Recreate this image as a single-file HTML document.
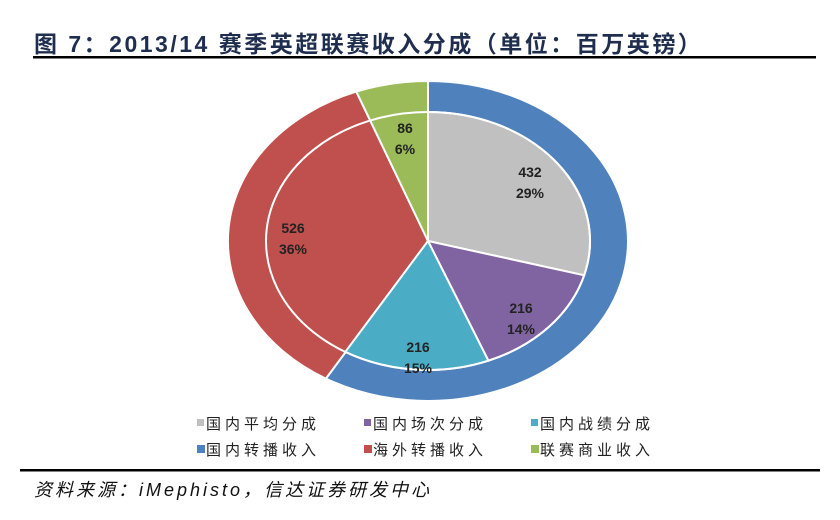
<!DOCTYPE html>
<html><head><meta charset="utf-8"><style>
body{margin:0;background:#fff;}
svg{display:block;}
</style></head><body>
<svg width="840" height="520" xmlns="http://www.w3.org/2000/svg">
<text x="34" y="52" font-family="'Liberation Sans','Noto Sans CJK SC',sans-serif" font-size="23" font-weight="bold" letter-spacing="2.5" fill="#1f2d4e">图 7：2013/14 赛季英超联赛收入分成（单位：百万英镑）</text>
<rect x="33" y="56" width="783" height="2.5" fill="#000"/>
<g stroke="#fff" stroke-width="2">
<path d="M428,241 L428,81 A200,160 0 1 1 325.9,378.6 Z" fill="#4f81bd"/>
<path d="M428,241 L325.9,378.6 A200,160 0 0 1 356.3,91.6 Z" fill="#c0504d"/>
<path d="M428,241 L356.3,91.6 A200,160 0 0 1 428,81 Z" fill="#9bbb59"/>
<path d="M428,241 L428,112 A162,129 0 0 1 584.2,275.3 Z" fill="#c0c0c0"/>
<path d="M428,241 L584.2,275.3 A162,129 0 0 1 488.4,360.7 Z" fill="#8064a2"/>
<path d="M428,241 L488.4,360.7 A162,129 0 0 1 345.3,351.9 Z" fill="#4bacc6"/>
<ellipse cx="428" cy="241" rx="162" ry="129" fill="none"/>
</g>
<g font-family="'Liberation Sans',sans-serif" font-size="14" font-weight="bold" fill="#222" text-anchor="middle">
<text x="530" y="177">432</text><text x="530" y="198">29%</text>
<text x="521" y="313">216</text><text x="521" y="334">14%</text>
<text x="418" y="352">216</text><text x="418" y="373">15%</text>
<text x="293" y="233">526</text><text x="293" y="254">36%</text>
<text x="405" y="133">86</text><text x="405" y="154">6%</text>
</g>
<g font-family="'Liberation Sans','Noto Sans CJK SC',sans-serif" font-size="15" letter-spacing="4" fill="#222">
<rect x="197" y="419" width="7" height="7" fill="#c0c0c0"/><text x="206" y="429">国内平均分成</text>
<rect x="364" y="419" width="7" height="7" fill="#8064a2"/><text x="373" y="429">国内场次分成</text>
<rect x="531" y="419" width="7" height="7" fill="#4bacc6"/><text x="540" y="429">国内战绩分成</text>
<rect x="197" y="445" width="8" height="8" fill="#4f81bd"/><text x="206" y="455">国内转播收入</text>
<rect x="364" y="445" width="8" height="8" fill="#c0504d"/><text x="373" y="455">海外转播收入</text>
<rect x="531" y="445" width="8" height="8" fill="#9bbb59"/><text x="540" y="455">联赛商业收入</text>
</g>
<rect x="20" y="469" width="800" height="2.5" fill="#000"/>
<text x="34" y="496" font-family="'Liberation Sans','Noto Sans CJK SC',sans-serif" font-size="18" font-style="italic" letter-spacing="3" fill="#111">资料来源：iMephisto，信达证券研发中心</text>
</svg>
</body></html>
